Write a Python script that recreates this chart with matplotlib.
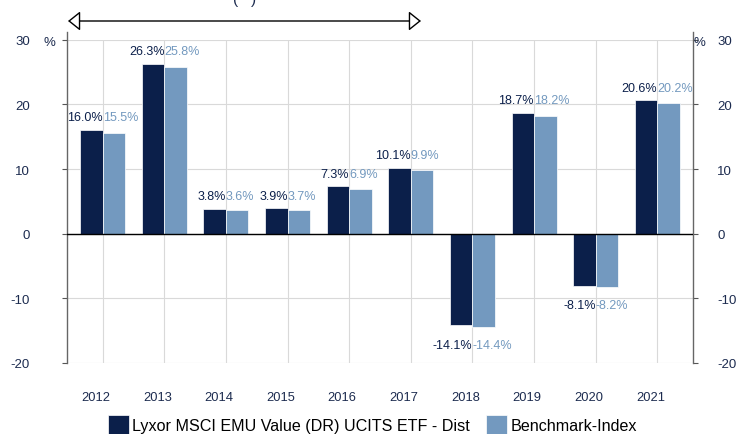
import matplotlib
matplotlib.use("Agg")
import matplotlib.pyplot as plt
import matplotlib.transforms as mtransforms
import numpy as np

years = ["2012", "2013", "2014", "2015", "2016", "2017", "2018", "2019", "2020", "2021"]
etf = [16.0, 26.3, 3.8, 3.9, 7.3, 10.1, -14.1, 18.7, -8.1, 20.6]
bench = [15.5, 25.8, 3.6, 3.7, 6.9, 9.9, -14.4, 18.2, -8.2, 20.2]
yticks = [-20, -10, 0, 10, 20, 30]
series_names = ["Lyxor MSCI EMU Value (DR) UCITS ETF - Dist", "Benchmark-Index"]

DARK = "#0b1f4a"
LIGHT = "#7399bf"
TXT = "#1c2b4f"

plt.rcParams["font.family"] = ["Liberation Sans", "DejaVu Sans"]

fig = plt.figure(figsize=(7.36, 4.35), dpi=100)
ax = fig.add_axes([67/736, 1-364/435, (693-67)/736, (364-40.7)/435])

x = np.arange(len(years))
w = 0.365
ax.bar(x - w/2, etf, w, color=DARK, edgecolor="white", linewidth=0.5, zorder=3, label=series_names[0])
ax.bar(x + w/2, bench, w, color=LIGHT, edgecolor="white", linewidth=0.5, zorder=3, label=series_names[1])

for i in range(len(years)):
    for v, col, ha in ((etf[i], DARK, "right"), (bench[i], LIGHT, "left")):
        top = max(etf[i], bench[i]) if v >= 0 else min(etf[i], bench[i])
        off = 5 if v >= 0 else -9
        ax.annotate(f"{v:.1f}%", (x[i], top), xytext=(0, off), textcoords="offset points",
                    ha=ha, va="bottom" if v >= 0 else "top", color=col, fontsize=9)

ax.set_xlim(-0.58, 9.58)
ax.set_ylim(-20, 30)
ax.set_yticks(yticks)
ax.set_yticklabels([str(t) for t in yticks])
ax.set_xticks(x)
ax.set_xticklabels(years)
ax.tick_params(axis="x", length=0, pad=20.5, labelsize=9.3, labelcolor=TXT)
ax.tick_params(axis="y", which="both", direction="out", length=3.6, color="#555555",
               labelsize=9.5, labelcolor=TXT, left=True, right=True, labelleft=True,
               labelright=True, pad=23)
for t in ax.yaxis.get_major_ticks():
    t.label2.set_transform(t.label2.get_transform() +
                           mtransforms.ScaledTranslation(-9.3/72, 0, fig.dpi_scale_trans))
for t in ax.xaxis.get_major_ticks():
    t.label1.set_transform(t.label1.get_transform() +
                           mtransforms.ScaledTranslation(-5/72, 0, fig.dpi_scale_trans))

ax.grid(True, color="#d9d9d9", linewidth=0.8, zorder=0)
ax.axhline(0, color="black", linewidth=1.0, zorder=4)
for s in ["top", "bottom"]:
    ax.spines[s].set_visible(False)
for s in ["left", "right"]:
    ax.spines[s].set_color("#666666")
    ax.spines[s].set_linewidth(1.0)
    ax.spines[s].set_bounds(-20, 31.2)

fig.text(43/736, 1-43/435, "%", ha="left", va="center", color=TXT, fontsize=9.5)
fig.text(693/736, 1-43/435, "%", ha="left", va="center", color=TXT, fontsize=9.5)
fig.text(245/736, 1.0, "(   )", ha="center", va="center", color=TXT, fontsize=11)

fig.add_artist(matplotlib.patches.FancyArrowPatch((68/736, 1-22/435), (421/736, 1-22/435),
               transform=fig.transFigure, arrowstyle="<|-|>,head_length=7.5,head_width=6",
               facecolor="white", edgecolor="black", linewidth=1.0, mutation_scale=1,
               shrinkA=0, shrinkB=0))

leg = fig.legend(loc="center left", bbox_to_anchor=(108/736, 1-426/435), ncol=2, frameon=False,
                 fontsize=11.6, handlelength=1.3, handleheight=1.5, handletextpad=0.2,
                 columnspacing=1.0, labelcolor="black", borderaxespad=0, borderpad=0)

fig.savefig("out.png", dpi=100)
